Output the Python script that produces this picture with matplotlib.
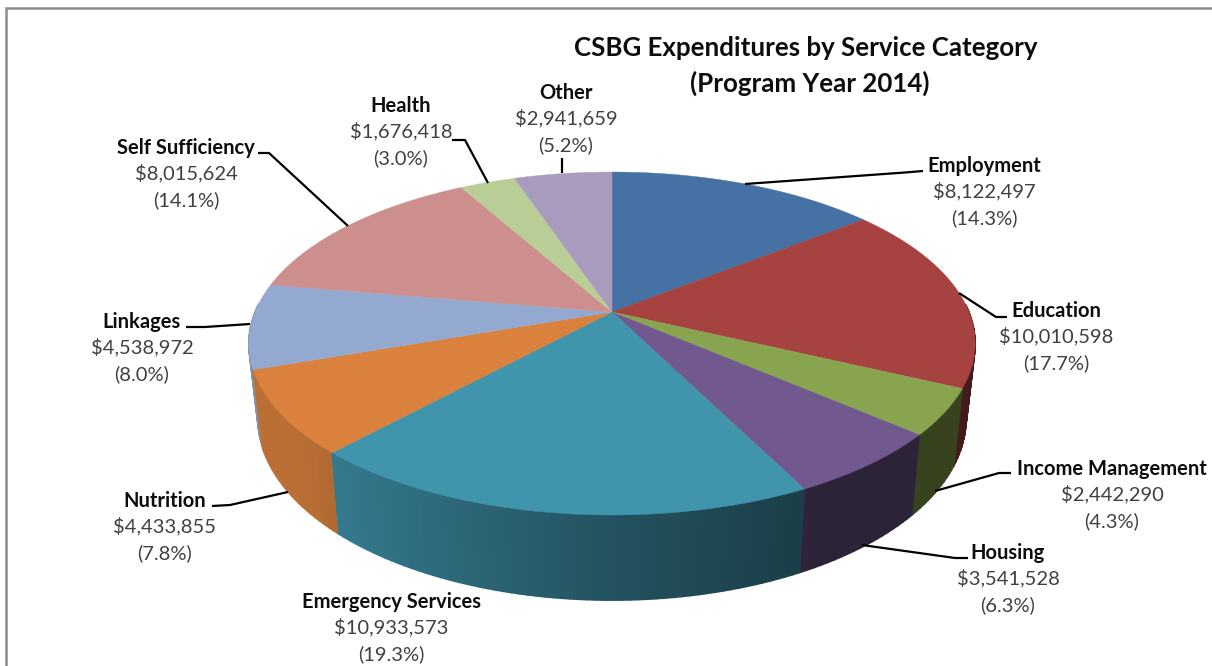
import numpy as np
import matplotlib
matplotlib.use('Agg')
import matplotlib.pyplot as plt
from matplotlib.collections import PolyCollection

plt.rcParams['font.family'] = ['Lato', 'DejaVu Sans']

# data, clockwise from 12 o'clock
categories = ['Employment', 'Education', 'Income Management', 'Housing', 'Emergency Services',
              'Nutrition', 'Linkages', 'Self Sufficiency', 'Health', 'Other']
expenditures = [8122497, 10010598, 2442290, 3541528, 10933573,
                4433855, 4538972, 8015624, 1676418, 2941659]
colors = ['#4571a5', '#a64340', '#89a44e', '#71588f', '#4095ad',
          '#d9813d', '#93a9cf', '#cd8f8d', '#b9cd96', '#a99bbd']

# label centre x, y of the name line
label_pos = [(984, 165), (1056, 310), (1112, 468), (1008, 552), (391, 601),
             (165, 500), (142, 321), (186, 147), (401, 105), (566, 92)]
# leader lines, pie end first
leaders = [[(745, 184), (905, 172.5), (923, 171)],
           [(959, 293), (996, 317), (1007, 317)],
           [(935, 491), (999, 473), (1011, 473)],
           [(862, 545), (955, 558), (968, 558)],
           None,
           [(288, 492), (230, 505), (212, 506)],
           [(250, 324), (205, 327), (186, 327)],
           [(348, 226), (269, 153), (258, 153)],
           [(488, 183), (465, 140), (452, 140)],
           [(562, 173), (562, 158)]]

# perspective of the pie
cx, cy = 612, 312
rx, ry = 357, 165.7
k = 0.1837


def top_xy(theta):
    # theta is clockwise from the top of the pie
    x = np.sin(theta)
    y = np.cos(theta)
    d = 1 + k * y
    return cx + rx * x / d, cy - ry * y / d


def bottom_xy(theta):
    px, py = top_xy(theta)
    return cx + 0.975 * (px - cx), cy + 73 + 1.06 * (py - cy)


def shade(theta):
    return np.interp(np.sin(theta), [-1, -0.75, 0, 0.5, 1], [0.87, 0.85, 0.55, 0.40, 0.40])


fig = plt.figure(figsize=(12.12, 6.66), dpi=100)
ax = fig.add_axes([0, 0, 1, 1])
ax.set_xlim(0, 1212)
ax.set_ylim(666, 0)
ax.axis('off')

# frame, only left and top show
ax.plot([6, 6, 1212], [666, 8, 8], color='#8c8c8c', lw=1.8, solid_joinstyle='miter')

total = sum(expenditures)
edges = np.concatenate([[0], np.cumsum(expenditures)]) / total * 2 * np.pi

# side wall, back pieces first (the far side is hidden so skip it)
quads = []
for i, col in enumerate(colors):
    n = max(int((edges[i + 1] - edges[i]) / 0.02), 2)
    t = np.linspace(edges[i], edges[i + 1], n + 1)
    base = np.array(matplotlib.colors.to_rgb(col))
    for a, b in zip(t[:-1], t[1:]):
        mid = (a + b) / 2
        if np.cos(mid) > 0.05:
            continue
        p1 = top_xy(a)
        p2 = top_xy(b)
        p3 = bottom_xy(b)
        p4 = bottom_xy(a)
        quads.append((np.cos(mid), [p1, p2, p3, p4], base * shade(mid)))
quads.sort(key=lambda q: -q[0])
ax.add_collection(PolyCollection([q[1] for q in quads], facecolors=[q[2] for q in quads],
                                 edgecolors=[q[2] for q in quads], linewidths=1.1))

# top face
for i, col in enumerate(colors):
    t = np.linspace(edges[i], edges[i + 1], 120)
    px, py = top_xy(t)
    ax.fill(np.r_[cx, px], np.r_[cy, py], color=col, lw=0.3, zorder=3)

for pts in leaders:
    if pts is None:
        continue
    ax.plot([p[0] for p in pts], [p[1] for p in pts], color='black', lw=1.6, zorder=4,
            solid_capstyle='butt')

for name, v, (lx, ly) in zip(categories, expenditures, label_pos):
    ax.text(lx, ly + 1, name, ha='center', va='center', fontsize=14.5, fontweight='bold', color='#0d0d0d')
    ax.text(lx, ly + 26, f'${v:,}', ha='center', va='center', fontsize=14.5, color='#404040')
    ax.text(lx, ly + 53, f'({v / total * 100:.1f}%)', ha='center', va='center', fontsize=14.5, color='#404040')

ax.text(806, 48, 'CSBG Expenditures by Service Category', ha='center', va='center',
        fontsize=18.6, fontweight='bold', color='#0d0d0d')
ax.text(810, 83, '(Program Year 2014)', ha='center', va='center',
        fontsize=18.6, fontweight='bold', color='#0d0d0d')

fig.savefig('out.png', dpi=100, facecolor='white')
